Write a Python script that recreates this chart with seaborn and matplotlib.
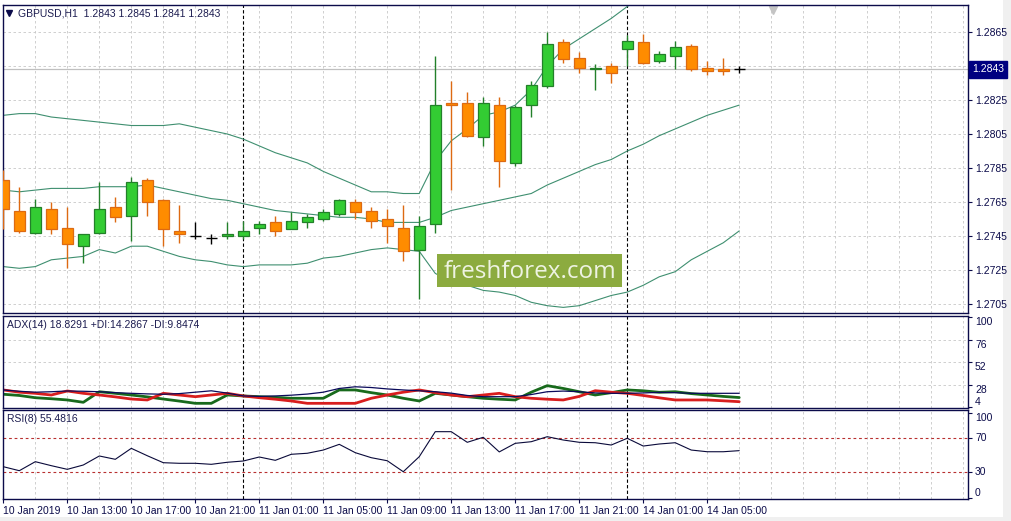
import numpy as np
import pandas as pd
import matplotlib
matplotlib.use("Agg")
import matplotlib.pyplot as plt
import matplotlib.transforms as mtransforms
from matplotlib.patches import Rectangle
import seaborn as sns

# GBPUSD H1 candles (10 Jan 09:00 -> 14 Jan 07:00)
opens = [1.2778, 1.2760, 1.2747, 1.2761, 1.2750, 1.2739, 1.2747, 1.2762, 1.2757, 1.2778,
         1.2766, 1.2748, 1.2745, 1.2744, 1.2745, 1.2745, 1.2750, 1.2753, 1.2749, 1.2753,
         1.2755, 1.2758, 1.2765, 1.2760, 1.2755, 1.2750, 1.2737, 1.2752, 1.2823, 1.2823,
         1.2803, 1.2822, 1.2788, 1.2822, 1.2833, 1.2859, 1.2850, 1.2843, 1.2845, 1.2855,
         1.2859, 1.2848, 1.2851, 1.2857, 1.2844, 1.2843, 1.2843]
highs = [1.2784, 1.2774, 1.2767, 1.2765, 1.2762, 1.2746, 1.2777, 1.2768, 1.2780, 1.2779,
         1.2767, 1.2763, 1.2753, 1.2746, 1.2753, 1.2754, 1.2754, 1.2757, 1.2759, 1.2758,
         1.2761, 1.2767, 1.2767, 1.2762, 1.2761, 1.2763, 1.2757, 1.2851, 1.2836, 1.2830,
         1.2827, 1.2827, 1.2822, 1.2836, 1.2865, 1.2861, 1.2853, 1.2846, 1.2847, 1.2863,
         1.2864, 1.2854, 1.2860, 1.2858, 1.2848, 1.2850, 1.2845]
lows = [1.2749, 1.2747, 1.2746, 1.2746, 1.2726, 1.2729, 1.2746, 1.2753, 1.2742, 1.2757,
        1.2739, 1.2741, 1.2743, 1.2740, 1.2743, 1.2743, 1.2746, 1.2745, 1.2749, 1.2750,
        1.2754, 1.2757, 1.2755, 1.2750, 1.2741, 1.2730, 1.2708, 1.2747, 1.2772, 1.2803,
        1.2798, 1.2774, 1.2786, 1.2815, 1.2832, 1.2847, 1.2841, 1.2831, 1.2835, 1.2845,
        1.2846, 1.2847, 1.2843, 1.2842, 1.2840, 1.2840, 1.2841]
closes = [1.2761, 1.2748, 1.2762, 1.2749, 1.2740, 1.2746, 1.2761, 1.2756, 1.2777, 1.2765,
          1.2749, 1.2746, 1.2745, 1.2744, 1.2746, 1.2748, 1.2752, 1.2748, 1.2754, 1.2756,
          1.2759, 1.2766, 1.2759, 1.2754, 1.2751, 1.2736, 1.2751, 1.2822, 1.2822, 1.2804,
          1.2823, 1.2789, 1.2821, 1.2834, 1.2858, 1.2849, 1.2844, 1.2844, 1.2841, 1.2860,
          1.2847, 1.2852, 1.2856, 1.2843, 1.2842, 1.2842, 1.2843]

# Bollinger bands (upper leaves the chart after bar 39)
bb_upper = [1.2816, 1.2817, 1.2817, 1.2815, 1.2814, 1.2813, 1.2812, 1.2811, 1.2810, 1.2810,
            1.2810, 1.2811, 1.2809, 1.2807, 1.2805, 1.2802, 1.2798, 1.2794, 1.2791, 1.2788,
            1.2783, 1.2779, 1.2775, 1.2771, 1.2771, 1.2770, 1.2770, 1.2789, 1.2801, 1.2808,
            1.2816, 1.2818, 1.2822, 1.2831, 1.2845, 1.2855, 1.2861, 1.2867, 1.2873, 1.2880,
            1.2887]
bb_middle = [1.2772, 1.2771, 1.2772, 1.2773, 1.2773, 1.2773, 1.2774, 1.2774, 1.2774, 1.2775,
             1.2773, 1.2771, 1.2769, 1.2767, 1.2766, 1.2764, 1.2762, 1.2760, 1.2759, 1.2758,
             1.2757, 1.2756, 1.2756, 1.2755, 1.2753, 1.2753, 1.2753, 1.2756, 1.2760, 1.2762,
             1.2764, 1.2766, 1.2768, 1.2770, 1.2775, 1.2779, 1.2783, 1.2787, 1.2790, 1.2795,
             1.2799, 1.2804, 1.2808, 1.2812, 1.2816, 1.2819, 1.2822]
bb_lower = [1.2727, 1.2726, 1.2727, 1.2731, 1.2732, 1.2733, 1.2737, 1.2735, 1.2739, 1.2739,
            1.2736, 1.2733, 1.2731, 1.2730, 1.2728, 1.2727, 1.2728, 1.2728, 1.2728, 1.2729,
            1.2732, 1.2733, 1.2735, 1.2737, 1.2738, 1.2737, 1.2736, 1.2723, 1.2718, 1.2716,
            1.2713, 1.2712, 1.2710, 1.2706, 1.2704, 1.2703, 1.2704, 1.2707, 1.2710, 1.2712,
            1.2716, 1.2721, 1.2724, 1.2731, 1.2736, 1.2741, 1.2748]

# ADX(14)
adx = [22.4, 21.0, 20.0, 20.5, 21.3, 21.0, 20.5, 19.5, 18.8, 18.2,
       17.8, 18.5, 20.0, 21.5, 19.0, 16.0, 15.5, 16.0, 16.8, 18.0,
       20.0, 24.0, 25.8, 25.0, 23.5, 22.4, 21.5, 20.5, 19.0, 16.5,
       15.2, 15.2, 15.2, 17.5, 20.5, 21.2, 20.5, 19.2, 18.8, 18.8,
       19.2, 19.8, 19.5, 18.8, 18.8, 18.8, 18.83]
plus_di = [17.8, 16.5, 14.1, 13.0, 11.7, 9.2, 20.5, 18.8, 17.0, 15.0,
           12.7, 10.5, 8.1, 8.1, 17.0, 16.0, 15.2, 14.5, 13.5, 13.5,
           13.5, 22.4, 22.4, 19.5, 17.0, 13.5, 10.6, 18.8, 17.0, 15.2,
           13.5, 12.5, 11.7, 20.0, 27.0, 24.0, 20.5, 17.0, 19.5, 22.4,
           21.5, 19.9, 20.5, 18.5, 17.0, 15.5, 14.29]
minus_di = [22.4, 20.0, 18.8, 17.0, 21.3, 18.8, 17.0, 15.0, 12.7, 11.7,
            18.8, 17.0, 15.2, 17.0, 18.8, 16.0, 14.1, 12.5, 10.6, 8.1,
            8.1, 8.1, 8.1, 13.5, 17.0, 20.0, 22.4, 19.5, 17.0, 15.2,
            17.0, 18.8, 15.2, 13.5, 12.5, 11.7, 15.5, 21.6, 20.0, 18.8,
            16.5, 14.0, 11.7, 11.7, 11.7, 10.8, 9.85]

# RSI(8)
rsi = [36.6, 31.9, 42.5, 37.8, 33.5, 38.6, 49.2, 45.3, 58.2, 49.5,
       41.3, 40.6, 40.6, 39.4, 41.8, 43.3, 48.0, 44.1, 51.2, 52.4,
       56.2, 62.9, 53.1, 47.2, 43.6, 30.7, 48.4, 77.8, 77.8, 65.3,
       71.2, 54.0, 64.1, 66.0, 71.9, 68.0, 65.3, 64.8, 62.1, 70.0,
       60.9, 63.3, 64.8, 56.2, 54.2, 54.2, 55.48]

time_labels = ["10 Jan 2019", "10 Jan 13:00", "10 Jan 17:00", "10 Jan 21:00",
               "11 Jan 01:00", "11 Jan 05:00", "11 Jan 09:00", "11 Jan 13:00",
               "11 Jan 17:00", "11 Jan 21:00", "14 Jan 01:00", "14 Jan 05:00"]
label_bars = [0, 4, 8, 12, 16, 20, 24, 28, 32, 36, 40, 44]
day_breaks = [15, 39]

price_ticks = [1.2705, 1.2725, 1.2745, 1.2765, 1.2785, 1.2805, 1.2825, 1.2845, 1.2865]
last_price = 1.2843

df = pd.DataFrame({"bar": np.arange(len(closes)), "open": opens, "high": highs,
                   "low": lows, "close": closes, "mid": bb_middle, "low_bb": bb_lower,
                   "adx": adx, "pdi": plus_di, "mdi": minus_di, "rsi": rsi})
up_df = pd.DataFrame({"bar": np.arange(len(bb_upper)), "up": bb_upper})

sns.set_style("white")
plt.rcParams["font.family"] = ["Liberation Sans", "DejaVu Sans"]

W, H = 1011, 521
fig = plt.figure(figsize=(W / 100, H / 100), dpi=100)
fig.patch.set_facecolor("white")
L, R = 3, 968
ax1 = fig.add_axes([L / W, 1 - 313 / H, (R - L) / W, 308 / H])
ax2 = fig.add_axes([L / W, 1 - 408 / H, (R - L) / W, 92 / H])
ax3 = fig.add_axes([L / W, 1 - 499 / H, (R - L) / W, 89 / H])

navy = "#0b0b4a"
gridc = "#c8c8c8"
bandc = "#3f8f70"

for ax in (ax1, ax2, ax3):
    ax.set_facecolor("white")
    for s in ax.spines.values():
        s.set_color(navy)
        s.set_linewidth(1.0)
    ax.set_xlim(-0.02, 60.3)
    ax.yaxis.tick_right()
    ax.tick_params(axis="y", right=True, left=False, length=3, width=0.8, color=navy,
                   labelsize=7.5, labelcolor=navy, pad=2)
    ax.tick_params(axis="x", bottom=False, labelbottom=False)
    for k in range(2, 61, 2):
        ax.axvline(k, color=gridc, lw=0.6, ls=(0, (3, 3)), zorder=0)
    for d in day_breaks:
        ax.axvline(d, color="black", lw=0.8, ls=(0, (3, 2)), zorder=1)

# ---- main price panel
ax1.set_ylim(1.26997, 1.28809)
for p in price_ticks:
    ax1.axhline(p, color=gridc, lw=0.6, ls=(0, (3, 3)), zorder=0)
ax1.axhline(last_price, color="#c0c0c0", lw=0.9, zorder=0.5)
ax1.set_yticks(price_ticks)
ax1.set_yticklabels(["%.4f" % p if abs(p - 1.2845) > 1e-6 else "" for p in price_ticks])

sns.lineplot(data=up_df, x="bar", y="up", ax=ax1, color=bandc, lw=0.8, zorder=2)
sns.lineplot(data=df, x="bar", y="mid", ax=ax1, color=bandc, lw=0.8, zorder=2)
sns.lineplot(data=df, x="bar", y="low_bb", ax=ax1, color=bandc, lw=0.8, zorder=2)

bw = 0.68
for i, o, h, l, c in zip(df["bar"], opens, highs, lows, closes):
    if c > o:
        face, edge = "#33cc33", "#23802a"
    elif c < o:
        face, edge = "#ff8c00", "#dd6a12"
    else:
        ax1.vlines(i, l, h, color="black", lw=1.0, zorder=3)
        ax1.hlines(o, i - bw / 2, i + bw / 2, color="black", lw=1.0, zorder=3)
        continue
    ax1.vlines(i, l, h, color=edge, lw=1.0, zorder=3)
    ax1.bar(i, abs(c - o), bottom=min(o, c), width=bw, color=face, edgecolor=edge,
            linewidth=0.9, zorder=4)

ax1.set_xlabel("")
ax1.set_ylabel("")
ax1.plot([0.0065], [0.974], marker="v", ms=4, color=navy, transform=ax1.transAxes, clip_on=False)
ax1.text(0.0155, 0.974, "GBPUSD,H1  1.2843 1.2845 1.2841 1.2843", transform=ax1.transAxes,
         fontsize=7.5, color="#1c1c50", va="center", ha="left")
ax1.plot([(773 - L) / (R - L)], [0.985], marker="v", ms=6, color="#c4c4c4",
         transform=ax1.transAxes, clip_on=False)
tr = mtransforms.blended_transform_factory(ax1.transAxes, ax1.transData)
ax1.text(1.004, last_price, "1.2843", transform=tr, fontsize=7.5, color="white",
         va="center", ha="left",
         bbox=dict(boxstyle="square,pad=0.3", facecolor="#000080", edgecolor="#000080"))

# ---- ADX panel
ax2.set_ylim(3.1, 101.5)
for v in (76, 52, 28):
    ax2.axhline(v, color=gridc, lw=0.6, ls=(0, (3, 3)), zorder=0)
sns.lineplot(data=df, x="bar", y="adx", ax=ax2, color="#0a0a5a", lw=0.9, zorder=3)
sns.lineplot(data=df, x="bar", y="pdi", ax=ax2, color="#186a1c", lw=2.0, zorder=2)
sns.lineplot(data=df, x="bar", y="mdi", ax=ax2, color="#d81e1e", lw=2.0, zorder=2)
ax2.set_yticks([100, 76, 52, 28, 4])
ax2.set_yticklabels(["100", "76", "52", "28", "4"])
for lab in ax2.get_yticklabels():
    lab.set_va("bottom" if lab.get_text() == "4" else "top")
ax2.set_xlabel("")
ax2.set_ylabel("")
ax2.text(0.004, 0.90, "ADX(14) 18.8291 +DI:14.2867 -DI:9.8474", transform=ax2.transAxes,
         fontsize=7.5, color="#1c1c50", va="center", ha="left")

# ---- RSI panel
ax3.set_ylim(-1.4, 103.3)
for v in (70, 30):
    ax3.axhline(v, color="#b83030", lw=0.8, ls=(0, (2.5, 2.5)), zorder=1)
sns.lineplot(data=df, x="bar", y="rsi", ax=ax3, color="#0a0a3a", lw=0.8, zorder=3)
ax3.set_yticks([100, 70, 30, 0])
ax3.set_yticklabels(["100", "70", "30", "0"])
for lab in ax3.get_yticklabels():
    t = lab.get_text()
    lab.set_va("top" if t == "100" else ("bottom" if t == "0" else "center"))
ax3.set_xlabel("")
ax3.set_ylabel("")
ax3.text(0.004, 0.90, "RSI(8) 55.4816", transform=ax3.transAxes,
         fontsize=7.5, color="#1c1c50", va="center", ha="left")
ax3.set_xticks(label_bars)
ax3.set_xticklabels(time_labels)
ax3.tick_params(axis="x", bottom=True, labelbottom=True, length=3, width=0.8, color=navy,
                labelsize=7.5, labelcolor=navy, pad=2)
for lab in ax3.get_xticklabels():
    lab.set_ha("left")

# watermark
fig.add_artist(Rectangle((437 / W, 1 - 287 / H), 185 / W, 33 / H, transform=fig.transFigure,
                         facecolor="#8cab3f", edgecolor="none", zorder=10))
fig.text(530 / W, 1 - 272 / H, "freshforex.com", fontsize=17.5, color="#eef3e2",
         family=["Open Sans", "DejaVu Sans"], ha="center", va="center", zorder=11)

# window edges
fig.add_artist(Rectangle((0, 0), 1, 4 / H, transform=fig.transFigure,
                         facecolor="#f0f0f0", edgecolor="none", zorder=0))
fig.add_artist(Rectangle((1 - 8 / W, 0), 8 / W, 1, transform=fig.transFigure,
                         facecolor="#f0f0f0", edgecolor="none", zorder=0))

fig.savefig("out.png", dpi=100)
